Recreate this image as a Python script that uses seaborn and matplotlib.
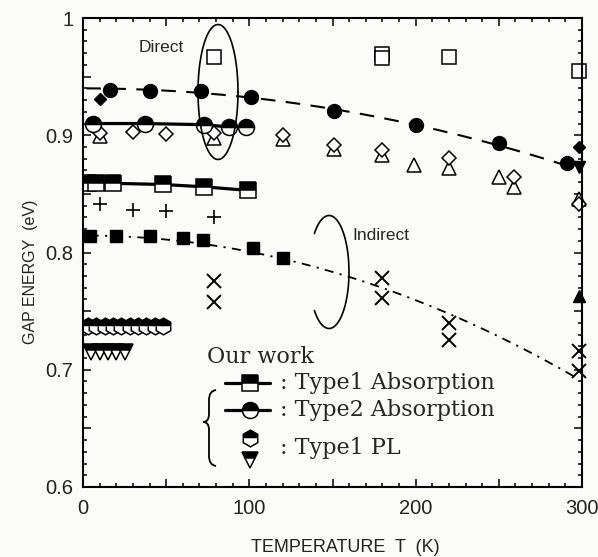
import numpy as np
import matplotlib
matplotlib.use("Agg")
import matplotlib.pyplot as plt
import seaborn as sns
from matplotlib.path import Path
from matplotlib.patches import PathPatch
from matplotlib.ticker import MultipleLocator, FixedLocator, FixedFormatter

# ---- Our work -------------------------------------------------------------
type1_abs_T = [3, 8, 18, 48, 73, 99]
type1_abs_E = [0.859, 0.859, 0.859, 0.858, 0.856, 0.853]
type2_abs_T = [6, 37, 73, 88, 98]
type2_abs_E = [0.910, 0.910, 0.909, 0.907, 0.907]
pl_hex_T = [3, 8, 13, 18, 23, 28, 33, 38, 43, 48]
pl_hex_E = [0.737, 0.737, 0.737, 0.737, 0.737, 0.737, 0.737, 0.737, 0.737, 0.737]
pl_tri_T = [5, 10, 15, 20, 25]
pl_tri_E = [0.715, 0.715, 0.715, 0.715, 0.715]

# ---- Reported values ------------------------------------------------------
direct_T = [16, 40, 71, 101, 151, 200, 250, 291]
direct_E = [0.939, 0.938, 0.938, 0.933, 0.921, 0.909, 0.893, 0.876]
indirect_T = [4, 20, 40, 60, 72, 102, 120]
indirect_E = [0.814, 0.814, 0.814, 0.812, 0.811, 0.804, 0.795]
plus_T = [10, 30, 50, 79]
plus_E = [0.841, 0.836, 0.835, 0.830]
diamond_T = [10, 30, 50, 79, 120, 151, 180, 220, 259, 298]
diamond_E = [0.902, 0.903, 0.901, 0.902, 0.900, 0.892, 0.887, 0.881, 0.864, 0.841]
triangle_T = [10, 79, 120, 151, 180, 199, 220, 250, 259, 298]
triangle_E = [0.899, 0.898, 0.897, 0.888, 0.883, 0.875, 0.872, 0.864, 0.856, 0.846]
cross_T = [79, 79, 180, 180, 220, 220, 298, 298]
cross_E = [0.776, 0.758, 0.778, 0.761, 0.740, 0.725, 0.716, 0.699]
open_sq_T = [79, 180, 180, 220, 298]
open_sq_E = [0.967, 0.969, 0.966, 0.967, 0.955]
fdiamond_T = [10, 298]
fdiamond_E = [0.931, 0.890]
fdown_T = [298]
fdown_E = [0.873]
fup_T = [298]
fup_E = [0.763]

# quadratic fits E(T) = c2*T^2 + c1*T + c0
direct_fit_coef = [-7.8e-7, 0.0, 0.940]
indirect_fit_coef = [-1.379e-6, 0.0, 0.8145]
direct_fit_range = (2, 293)
indirect_fit_range = (4, 296)

sns.set_style("ticks")
plt.rcParams["font.family"] = ["Liberation Sans", "DejaVu Sans"]

bg = "#fbfbf9"
fig = plt.figure(figsize=(5.98, 5.57), dpi=100, facecolor=bg)
ax = fig.add_axes([83 / 598, 1 - 487 / 557, 499 / 598, 469 / 557])
ax.set_facecolor(bg)

# fitted curves
Td = np.linspace(*direct_fit_range, 200)
sns.lineplot(x=Td, y=np.polyval(direct_fit_coef, Td), ax=ax, color="black",
             lw=1.5, estimator=None, sort=False)
ax.lines[-1].set_dashes((7, 5))
Ti = np.linspace(*indirect_fit_range, 200)
sns.lineplot(x=Ti, y=np.polyval(indirect_fit_coef, Ti), ax=ax, color="black",
             lw=1.3, estimator=None, sort=False)
ax.lines[-1].set_dashes((5, 3.5, 1.2, 3.5))

# connecting solid lines of our absorption data
sns.lineplot(x=type1_abs_T, y=type1_abs_E, ax=ax, color="black", lw=2.3,
             estimator=None, sort=False)
sns.lineplot(x=type2_abs_T, y=type2_abs_E, ax=ax, color="black", lw=2.3,
             estimator=None, sort=False)

mk = dict(linestyle="none", color="black", clip_on=False)
open_mk = dict(linestyle="none", markerfacecolor="white", markeredgecolor="black",
               markeredgewidth=1.1, clip_on=False)
half = dict(linestyle="none", fillstyle="top", markerfacecolor="black",
            markerfacecoloralt="white", markeredgecolor="black", markeredgewidth=1.1)

ax.plot(open_sq_T, open_sq_E, marker="s", markersize=9.5, **open_mk)
ax.plot(triangle_T, triangle_E, marker="^", markersize=10, **open_mk)
ax.plot(diamond_T, diamond_E, marker="D", markersize=6.8, **open_mk)
ax.plot(plus_T, plus_E, marker="+", markersize=10, markeredgewidth=1.2, **mk)
ax.plot(cross_T, cross_E, marker="x", markersize=10, markeredgewidth=1.4, **mk)
ax.plot(direct_T, direct_E, marker="o", markersize=10, **mk)
ax.plot(indirect_T, indirect_E, marker="s", markersize=8, **mk)
ax.plot(fdiamond_T, fdiamond_E, marker="D", markersize=6.5, **mk)
ax.plot(fdown_T, fdown_E, marker="v", markersize=9, **mk)
ax.plot(fup_T, fup_E, marker="^", markersize=9, **mk)

ax.plot(type2_abs_T, type2_abs_E, marker="o", markersize=11.5, **half)
ax.plot(type1_abs_T, type1_abs_E, marker="s", markersize=12, **half)
ax.plot(pl_hex_T, pl_hex_E, marker="h", markersize=12, **half)
ax.plot(pl_tri_T, pl_tri_E, marker="v", markersize=11, **half)

# axes, ticks
ax.set_xlim(0, 300)
ax.set_ylim(0.6, 1.0)
ax.xaxis.set_major_locator(FixedLocator([0, 50, 100, 150, 200, 250, 300]))
ax.xaxis.set_major_formatter(FixedFormatter(["0", "", "100", "", "200", "", "300"]))
ax.xaxis.set_minor_locator(MultipleLocator(10))
ax.yaxis.set_major_locator(FixedLocator([0.6, 0.65, 0.7, 0.75, 0.8, 0.85, 0.9, 0.95, 1.0]))
ax.yaxis.set_major_formatter(FixedFormatter(["0.6", "", "0.7", "", "0.8", "", "0.9", "", "1"]))
ax.yaxis.set_minor_locator(MultipleLocator(0.01))
ax.tick_params(which="both", direction="in", top=True, right=True, color="black",
               width=1.1)
ax.tick_params(which="major", length=6, labelsize=14.5, pad=7, labelcolor="#222222")
ax.tick_params(axis="x", which="major", pad=9)
ax.tick_params(which="minor", length=3.2)
for s in ax.spines.values():
    s.set_linewidth(1.5)
    s.set_color("black")

ax.set_xlabel("TEMPERATURE  T  (K)", fontsize=13, color="#222222")
ax.set_ylabel("GAP ENERGY  (eV)", fontsize=11.5, color="#222222")
ax.xaxis.label.set_va("center")
ax.yaxis.label.set_va("center")
ax.xaxis.set_label_coords(0.525, -0.13)
ax.yaxis.set_label_coords(-0.106, 0.458)


def fx(px):
    return (px - 83) / 499


def fy(py):
    return (487 - py) / 469


def loop(cx, cy, w, h, start, stop):
    phi = np.radians(np.linspace(start, stop, 300))
    xs = fx(cx + w / 2 * np.cos(phi))
    ys = fy(cy - h / 2 * np.sin(phi))
    ax.plot(xs, ys, transform=ax.transAxes, color="black", lw=1.2, clip_on=False)


loop(218, 92, 40, 135, 0, 360)
loop(329, 272, 40, 113, -137, 137)
ax.text(fx(161), fy(47), "Direct", transform=ax.transAxes, ha="center",
        va="center", fontsize=12.5)
ax.text(fx(381), fy(235), "Indirect", transform=ax.transAxes, ha="center",
        va="center", fontsize=12.5)

# legend block
serif = ["DejaVu Serif"]
fs_leg = 16
ax.text(fx(207), fy(357), "Our work", transform=ax.transAxes, ha="left",
        va="center", fontsize=fs_leg, family=serif)
rows = [(383, "s", 12, ": Type1 Absorption"),
        (410, "o", 11.5, ": Type2 Absorption")]
for py, m, ms, label in rows:
    ax.plot([fx(225), fx(270)], [fy(py), fy(py)], transform=ax.transAxes,
            color="black", lw=2.3, clip_on=False)
    ax.plot([fx(250)], [fy(py)], transform=ax.transAxes, marker=m, markersize=ms,
            clip_on=False, **half)
    ax.text(fx(280), fy(py), label, transform=ax.transAxes, ha="left", va="center",
            fontsize=fs_leg, family=serif)
ax.plot([fx(250)], [fy(438)], transform=ax.transAxes, marker="h", markersize=12,
        clip_on=False, **half)
ax.plot([fx(250)], [fy(460)], transform=ax.transAxes, marker="v", markersize=11,
        clip_on=False, **half)
ax.text(fx(280), fy(448), ": Type1 PL", transform=ax.transAxes, ha="left",
        va="center", fontsize=fs_leg, family=serif)

brace_px = [(216, 390), (209, 391), (209, 400), (209, 414), (209, 422), (203, 422),
            (209, 422), (209, 430), (209, 456), (209, 465), (216, 466)]
codes = [Path.MOVETO, Path.CURVE3, Path.CURVE3, Path.LINETO, Path.CURVE3, Path.CURVE3,
         Path.CURVE3, Path.CURVE3, Path.LINETO, Path.CURVE3, Path.CURVE3]
brace = Path([(fx(a), fy(b)) for a, b in brace_px], codes)
ax.add_patch(PathPatch(brace, transform=ax.transAxes, fill=False, lw=1.3,
                       edgecolor="black", clip_on=False))

fig.savefig("out.png", dpi=100, facecolor=bg)
